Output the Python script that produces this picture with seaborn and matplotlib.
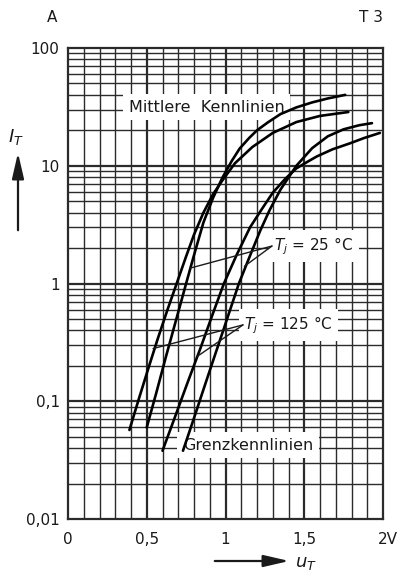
import numpy as np
import pandas as pd
import matplotlib
matplotlib.use("Agg")
import matplotlib.pyplot as plt
from matplotlib.patches import FancyArrowPatch
import seaborn as sns

# On-state characteristics: forward voltage u_T (V) vs. current I_T (A)
# Mittlere Kennlinien (typical), Tj = 25 °C
m25_u = [0.50, 0.56, 0.62, 0.68, 0.75, 0.80, 0.86, 0.92, 0.98, 1.04, 1.09,
         1.15, 1.20, 1.27, 1.35, 1.45, 1.55, 1.65, 1.76]
m25_i = [0.060, 0.117, 0.234, 0.457, 1.00, 1.74, 3.30, 5.30, 7.90, 11.0, 14.0,
         17.2, 20.0, 23.4, 27.5, 31.3, 34.5, 37.3, 40.0]
# Mittlere Kennlinien, Tj = 125 °C
m125_u = [0.39, 0.45, 0.51, 0.57, 0.63, 0.69, 0.75, 0.80, 0.86, 0.92, 0.98,
          1.06, 1.17, 1.30, 1.45, 1.60, 1.78]
m125_i = [0.057, 0.105, 0.19, 0.34, 0.59, 1.00, 1.70, 2.60, 4.00, 5.70, 7.50,
          10.5, 14.4, 19.0, 23.5, 26.5, 28.6]
# Grenzkennlinien (limit), Tj = 25 °C
g25_u = [0.73, 0.80, 0.87, 0.94, 1.01, 1.085, 1.15, 1.22, 1.28, 1.35, 1.45,
         1.55, 1.65, 1.75, 1.85, 1.93]
g25_i = [0.038, 0.072, 0.138, 0.263, 0.50, 1.00, 1.65, 2.80, 4.20, 6.30, 10.0,
         14.1, 17.8, 20.4, 22.1, 23.0]
# Grenzkennlinien, Tj = 125 °C
g125_u = [0.60, 0.68, 0.76, 0.84, 0.92, 0.99, 1.07, 1.156, 1.23, 1.30, 1.38,
          1.45, 1.52, 1.58, 1.68, 1.79, 1.88, 1.98]
g125_i = [0.038, 0.074, 0.145, 0.28, 0.556, 1.00, 1.74, 3.00, 4.27, 5.90, 7.76,
          9.5, 10.8, 12.0, 13.8, 15.5, 17.2, 19.0]

x_ticks = [0, 0.5, 1.0, 1.5]
x_ticklabels = ["0", "0,5", "1", "1,5"]
y_ticks = [0.01, 0.1, 1, 10, 100]
y_ticklabels = ["0,01", "0,1", "1", "10", "100"]

frames = []
for name, u, i in [("m25", m25_u, m25_i), ("m125", m125_u, m125_i),
                   ("g25", g25_u, g25_i), ("g125", g125_u, g125_i)]:
    frames.append(pd.DataFrame({"u": u, "i": i, "curve": name}))
df = pd.concat(frames, ignore_index=True)

sns.set_theme(style="white")
plt.rcParams["font.family"] = ["DejaVu Sans"]
plt.rcParams["mathtext.fontset"] = "dejavusans"

W, H = 398, 575
ink = "#1a1a1a"
grid_c = "#2b2b2b"
fig = plt.figure(figsize=(W / 100, H / 100), dpi=100)
ax = fig.add_axes([68 / W, 1 - 519 / H, (383 - 68) / W, (519 - 48) / H])

ax.set_yscale("log")
ax.set_xlim(0, 2)
ax.set_ylim(0.01, 100)

# engineering-paper grid: 0.1 V steps, 1..9 per decade
for xv in np.arange(1, 20) / 10:
    lw = 1.6 if abs(xv * 2 - round(xv * 2)) < 1e-9 else 1.0
    ax.axvline(xv, color=grid_c, lw=lw, zorder=1)
for dec in [0.01, 0.1, 1, 10]:
    for k in range(1, 10):
        yv = dec * k
        if yv <= 0.01 or yv >= 100:
            continue
        ax.axhline(yv, color=grid_c, lw=1.6 if k == 1 else 1.0, zorder=1)
for s in ax.spines.values():
    s.set_color(grid_c)
    s.set_linewidth(1.6)

sns.lineplot(data=df, x="u", y="i", units="curve", estimator=None, sort=False,
             color="black", lw=1.9, ax=ax, zorder=5, legend=False)

ax.set_xticks(x_ticks)
ax.set_xticklabels(x_ticklabels)
ax.set_yticks(y_ticks)
ax.set_yticklabels(y_ticklabels)
ax.minorticks_off()
ax.tick_params(axis="both", length=0, labelsize=11, colors=ink)
ax.tick_params(axis="x", pad=9)
ax.tick_params(axis="y", pad=6)
ax.set_xlabel("")
ax.set_ylabel("")
# last x label carries the unit
ax.annotate("2V", xy=(1.97, 0.01), xycoords="data", xytext=(0, -9),
            textcoords="offset points", ha="left", va="top", fontsize=11,
            color=ink)

box = dict(facecolor="white", edgecolor="none", pad=4)
ax.text(0.385, 31.5, "Mittlere  Kennlinien", fontsize=11.5, ha="left",
        va="center", bbox=box, zorder=4, color=ink)
ax.text(0.73, 0.0425, "Grenzkennlinien", fontsize=11.5, ha="left",
        va="center", bbox=box, zorder=4, color=ink)
ax.text(1.31, 2.08, r"$T_j$ = 25 °C", fontsize=11, ha="left",
        va="center", bbox=box, zorder=4, color=ink)
ax.text(1.12, 0.445, r"$T_j$ = 125 °C", fontsize=11, ha="left",
        va="center", bbox=box, zorder=4, color=ink)

# leader lines from the temperature labels to their curves
for tip, ends in [((1.295, 2.08), [(0.775, 1.35), (1.12, 1.40)]),
                  ((1.111, 0.445), [(0.54, 0.28), (0.82, 0.24)])]:
    for e in ends:
        ax.plot([tip[0], e[0]], [tip[1], e[1]], color=ink, lw=1.0, zorder=6)

# corner annotations and axis arrows
fig.text(52 / W, 1 - 17 / H, "A", fontsize=11, ha="center", va="center",
         color=ink)
fig.text(383 / W, 1 - 17 / H, "T 3", fontsize=11, ha="right", va="center",
         color=ink)
fig.text(16 / W, 1 - 137 / H, r"$I_T$", fontsize=13, ha="center",
         va="center", color=ink)
fig.text(306 / W, 1 - 563 / H, r"$u_T$", fontsize=13, ha="center",
         va="center", color=ink)
fig.add_artist(FancyArrowPatch(
    (18 / W, 1 - 233 / H), (18 / W, 1 - 150 / H), transform=fig.transFigure,
    arrowstyle="-|>,head_width=0.3,head_length=1.3", mutation_scale=12,
    lw=1.6, color=ink))
fig.add_artist(FancyArrowPatch(
    (212 / W, 1 - 561 / H), (292 / W, 1 - 561 / H), transform=fig.transFigure,
    arrowstyle="-|>,head_width=0.3,head_length=1.3", mutation_scale=12,
    lw=1.6, color=ink))

fig.savefig("out.png", dpi=100, facecolor="white")
